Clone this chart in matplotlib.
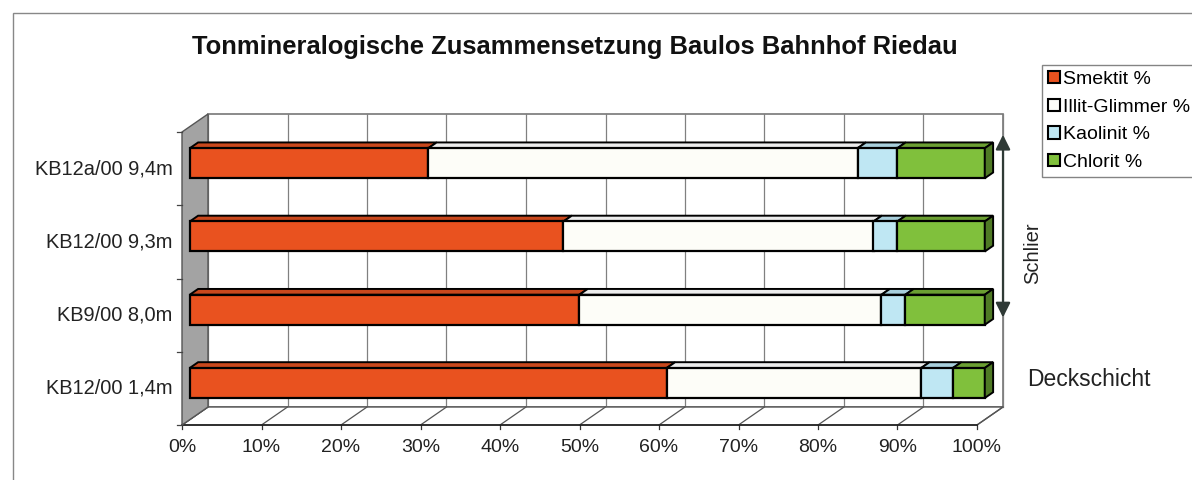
import matplotlib.pyplot as plt
from matplotlib.patches import Polygon, Rectangle
import numpy as np

plt.rcParams['font.family'] = ['Liberation Sans', 'DejaVu Sans']

# data (bottom to top)
proben = ["KB12/00 1,4m", "KB9/00 8,0m", "KB12/00 9,3m", "KB12a/00 9,4m"]
smektit = [60, 49, 47, 30]
illit = [32, 38, 39, 54]
kaolinit = [4, 3, 3, 5]
chlorit = [4, 10, 11, 11]
serien = ["Smektit %", "Illit-Glimmer %", "Kaolinit %", "Chlorit %"]
x_ticks = list(range(0, 101, 10))

front = ['#e9521f', '#fdfdf8', '#bfe7f3', '#80c03c']
top = ['#c9481d', '#ececec', '#a8cfdc', '#6b9f32']
side = ['#a93c18', '#d8d8d8', '#8fb6c4', '#4f7a25']

fig = plt.figure(figsize=(11.92, 4.8), dpi=100)
# front plane: 0% -> 182px, 100% -> 977px ; y 0..4 -> 425px..132px
ax = fig.add_axes([182 / 1192, 55 / 480, 795 / 1192, 293 / 480])
ax.set_xlim(0, 100)
ax.set_ylim(0, 4)
ax.axis('off')

DX = 26 / 7.95      # depth offset in data units
DY = 18 / 73.25
f1, f2 = 0.3, 0.62   # bar depth
h = 0.41

# back wall
ax.add_patch(Rectangle((DX, DY), 100, 4, facecolor='white', edgecolor='#777777', lw=1.2,
                       zorder=0, clip_on=False))
for k in x_ticks:
    ax.plot([k + DX, k + DX], [DY, 4 + DY], color='#808080', lw=0.9, zorder=1, clip_on=False)
# floor
ax.add_patch(Polygon([(0, 0), (100, 0), (100 + DX, DY), (DX, DY)], closed=True,
                     facecolor='white', edgecolor='#555555', lw=1, zorder=1, clip_on=False))
for k in x_ticks:
    ax.plot([k, k + DX], [0, DY], color='#555555', lw=0.9, zorder=1, clip_on=False)
    ax.plot([k, k], [0, -0.06], color='#333333', lw=0.9, clip_on=False)
    ax.text(k, -0.31, f"{k}%", ha='center', va='center', fontsize=14, color='#222222')
ax.plot([0, 100], [0, 0], color='#222222', lw=1.2, zorder=2, clip_on=False)
# left wall
ax.add_patch(Polygon([(0, 0), (DX, DY), (DX, 4 + DY), (0, 4)], closed=True,
                     facecolor='#a3a3a3', edgecolor='#555555', lw=1, zorder=2, clip_on=False))
for j in range(5):
    ax.plot([-0.6, 0], [j, j], color='#444444', lw=0.9, clip_on=False)

# bars
werte = [smektit, illit, kaolinit, chlorit]
for i, name in enumerate(proben):
    c = i + 0.5
    y0 = c - h / 2 + f1 * DY
    y1 = c + h / 2 + f1 * DY
    y2 = c + h / 2 + f2 * DY
    left = 0
    for s in range(4):
        w = werte[s][i]
        l = left + f1 * DX
        r = left + w + f1 * DX
        ax.add_patch(Polygon([(l, y1), (r, y1), (left + w + f2 * DX, y2), (left + f2 * DX, y2)],
                             closed=True, facecolor=top[s], edgecolor='black', lw=1.4, zorder=5,
                             clip_on=False))
        ax.add_patch(Rectangle((l, y0), w, h, facecolor=front[s], edgecolor='black', lw=1.6,
                               zorder=6, clip_on=False))
        left += w
    r = left + f1 * DX
    dx = (f2 - f1) * DX
    dy = (f2 - f1) * DY
    ax.add_patch(Polygon([(r, y0), (r, y1), (r + dx, y1 + dy), (r + dx, y0 + dy)], closed=True,
                         facecolor=side[3], edgecolor='black', lw=1.4, zorder=6, clip_on=False))
    ax.text(-1.15, c, name, ha='right', va='center', fontsize=14.4, color='#222222')

# Schlier arrow
ax.annotate('', xy=(100 + DX, 4.0), xytext=(100 + DX, 1.43),
            arrowprops=dict(arrowstyle='<|-|>', color='#2f3a36', lw=1.6, mutation_scale=22),
            annotation_clip=False, zorder=8)
ax.text(107.0, 2.35, "Schlier", rotation=90, ha='center', va='center', fontsize=14.5, color='#222222')
ax.text(106.3, 0.62, "Deckschicht", ha='left', va='center', fontsize=16.5, color='#222222')

fig.text(575 / 1192, 1 - 47 / 480, "Tonmineralogische Zusammensetzung Baulos Bahnhof Riedau",
         ha='center', va='center', fontsize=18.4, fontweight='bold', color='#111111')

handles = [Rectangle((0, 0), 1, 1, facecolor=front[s], edgecolor='black', lw=1.5) for s in range(4)]
leg = fig.legend(handles, serien, loc='upper left', bbox_to_anchor=(1042 / 1192, 1 - 65 / 480),
                 fontsize=14, frameon=True, fancybox=False, edgecolor='#666666',
                 handlelength=0.6, handleheight=0.6, handletextpad=0.2, labelspacing=0.55,
                 borderpad=0.3, borderaxespad=0)
leg.get_frame().set_linewidth(1)

fig.patches.append(Rectangle((13 / 1192, -0.1), 1.2, 1 - 13 / 480 + 0.1, transform=fig.transFigure,
                             fill=False, edgecolor='#888888', lw=1))

fig.savefig("out.png", dpi=100)
